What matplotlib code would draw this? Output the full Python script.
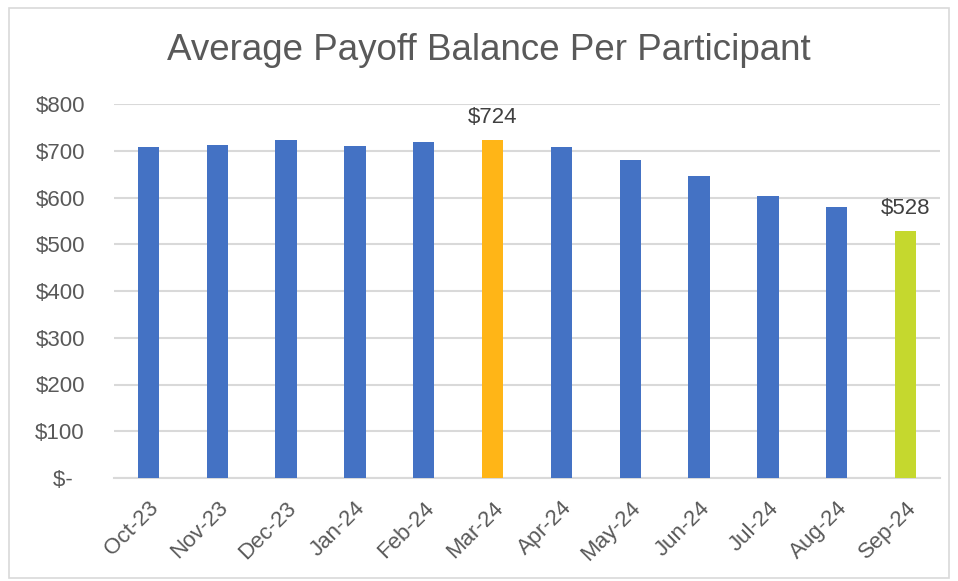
import matplotlib
matplotlib.use("Agg")
import matplotlib.pyplot as plt
from matplotlib.patches import Rectangle

categories = ["Oct-23", "Nov-23", "Dec-23", "Jan-24", "Feb-24", "Mar-24",
              "Apr-24", "May-24", "Jun-24", "Jul-24", "Aug-24", "Sep-24"]
values = [708, 712, 722, 710, 718, 724, 709, 681, 645, 604, 579, 528]
highlight = {"Mar-24": "#FFB517", "Sep-24": "#C5D82E"}
labelled = ["Mar-24", "Sep-24"]
yticks = [0, 100, 200, 300, 400, 500, 600, 700, 800]
ytick_labels = ["$-  ", "$100", "$200", "$300", "$400", "$500", "$600", "$700", "$800"]
title = "Average Payoff Balance Per Participant"

plt.rcParams['font.family'] = ['Liberation Sans', 'DejaVu Sans']
txt = "#595959"
W, H = 958, 581
fig = plt.figure(figsize=(W/100, H/100), dpi=100)
fig.patches.append(Rectangle((9/W, 3/H), 940/W, 570/H, transform=fig.transFigure,
                             fill=False, edgecolor="#D9D9D9", linewidth=1.2))
ax = fig.add_axes([114/W, 1-478/H, 826/W, 374/H])

colors = [highlight.get(c, "#4472C4") for c in categories]
x = list(range(len(categories)))
ax.bar(x, values, width=0.31, color=colors, zorder=3)
ax.set_xlim(-0.5, len(categories)-0.5)
ax.set_ylim(0, 800)
ax.set_yticks(yticks)
ax.set_yticklabels(ytick_labels)
ax.grid(axis='y', color="#D9D9D9", linewidth=1.5, zorder=0)
for s in ['top', 'right', 'left']:
    ax.spines[s].set_visible(False)
ax.spines['bottom'].set_color("#D9D9D9")
ax.spines['bottom'].set_linewidth(1.5)
ax.tick_params(axis='both', length=0, colors=txt, labelsize=16)
ax.tick_params(axis='y', pad=21)
ax.set_xticks(x)
ax.set_xticklabels(categories, rotation=45, ha='right', rotation_mode='anchor')
ax.tick_params(axis='x', pad=14)

for c in labelled:
    i = categories.index(c)
    ax.annotate(f"${values[i]}", (i, values[i]), xytext=(0, 12), textcoords='offset points',
                ha='center', va='baseline', fontsize=16, color="#404040")

fig.text(489/W, 1-50/H, title, ha='center', va='center', fontsize=26.5, color=txt)
fig.savefig("out.png", dpi=100, facecolor='white')
